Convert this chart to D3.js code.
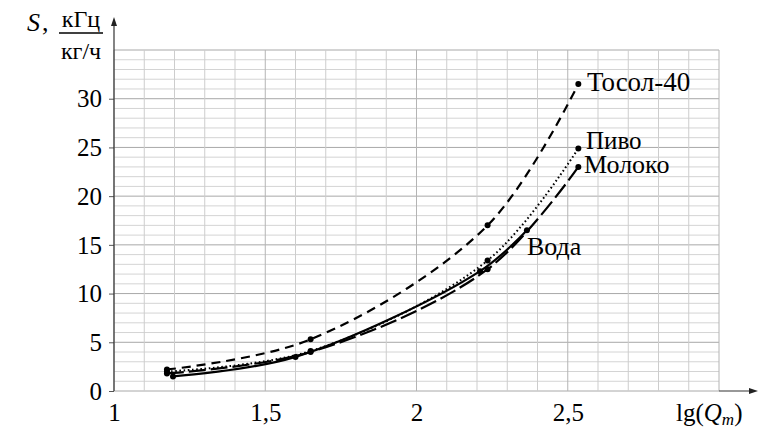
<!DOCTYPE html>
<html><head><meta charset="utf-8">
<script src="https://cdn.jsdelivr.net/npm/d3@7/dist/d3.min.js"></script>
<style>body{margin:0;background:#fff}svg{display:block}</style>
</head><body><svg id="c" width="759" height="428"></svg>
<script>
const xTicks = [1, 1.5, 2, 2.5];
const xTickLabels = ["1", "1,5", "2", "2,5"];
const yTicks = [0, 5, 10, 15, 20, 25, 30];
const seriesNames = ["Тосол-40", "Пиво", "Молоко", "Вода"];
const tosolX = [1.175, 1.65, 2.235, 2.535];
const tosolY = [2.2, 5.3, 17.0, 31.5];
const pivoX = [1.175, 1.65, 2.235, 2.535];
const pivoY = [2.0, 4.1, 13.4, 24.9];
const molokoX = [1.175, 1.65, 2.235, 2.535];
const molokoY = [1.8, 4.0, 12.5, 23.0];
const vodaX = [1.195, 1.60, 2.21, 2.365];
const vodaY = [1.5, 3.5, 12.3, 16.5];

const FONT = "Liberation Serif";
const svg = d3.select("#c");
const x = d3.scaleLinear().domain([1, 3]).range([114, 719]);
const y = d3.scaleLinear().domain([0, 35]).range([391, 50]);

const g = svg.append("g");
d3.range(0, 35.0001, 1).forEach(v => {
  const major = v % 5 === 0;
  g.append("line").attr("x1", x(1)).attr("x2", x(3)).attr("y1", y(v)).attr("y2", y(v))
    .attr("stroke", major ? "#a8a8a8" : "#d4d4d4").attr("stroke-width", 1);
});
d3.range(1, 3.0001, 0.1).forEach(v => {
  const major = Math.abs(v * 2 - Math.round(v * 2)) < 1e-6;
  g.append("line").attr("x1", x(v)).attr("x2", x(v)).attr("y1", y(0)).attr("y2", y(35))
    .attr("stroke", major ? "#b4b4b4" : "#cdcdcd").attr("stroke-width", 1);
});

// axes
const yAxis = d3.axisLeft(y).tickValues(yTicks).tickSize(5).tickFormat(d => d);
const ya = svg.append("g").attr("transform", `translate(${x(1)},0)`).call(yAxis);
ya.attr("font-family", FONT);
ya.select(".domain").remove();
ya.selectAll("line").attr("stroke", "#555");
ya.selectAll("text").attr("font-family", FONT).attr("font-size", 25).attr("x", -12).attr("dy", "0.33em");

const xAxis = d3.axisBottom(x).tickValues(xTicks).tickSize(0).tickFormat((d, i) => xTickLabels[i]);
const xa = svg.append("g").attr("transform", `translate(0,${y(0)})`).call(xAxis);
xa.attr("font-family", FONT);
xa.select(".domain").remove();
xa.selectAll("text").attr("font-family", FONT).attr("font-size", 25).attr("y", 12).attr("dy", "0.71em");

// axis arrows
svg.append("line").attr("x1", x(1)).attr("x2", x(1)).attr("y1", y(0)).attr("y2", 22)
  .attr("stroke", "#333").attr("stroke-width", 1.2);
svg.append("path").attr("d", `M${x(1)},17 L${x(1) - 3},26 L${x(1) + 3},26 Z`).attr("fill", "#222");
svg.append("line").attr("x1", x(3)).attr("x2", 752).attr("y1", y(0)).attr("y2", y(0))
  .attr("stroke", "#333").attr("stroke-width", 1.2);
svg.append("path").attr("d", `M758,${y(0)} L749,${y(0) - 3} L749,${y(0) + 3} Z`).attr("fill", "#222");

// axis titles
const T = (xx, yy, size) => svg.append("text").attr("x", xx).attr("y", yy)
  .attr("font-size", size).attr("font-family", FONT).attr("fill", "#000");
T(27, 31, 26).attr("font-style", "italic").text("S");
T(42, 31, 26).text(",");
T(81, 27, 24).attr("text-anchor", "middle").text("кГц");
svg.append("line").attr("x1", 59).attr("x2", 103).attr("y1", 33).attr("y2", 33).attr("stroke", "#000").attr("stroke-width", 1.3);
T(81, 59, 24).attr("text-anchor", "middle").text("кг/ч");

const xt = T(676, 421, 25);
xt.append("tspan").text("lg(");
xt.append("tspan").attr("font-style", "italic").text("Q");
xt.append("tspan").attr("font-style", "italic").attr("font-size", 17).attr("dy", 4).text("m");
xt.append("tspan").attr("dy", -4).text(")");

// series
const series = [
  {name: seriesNames[0], xs: tosolX, ys: tosolY, dash: "9,6", w: 2.2, lx: 587, ly: 91, fs: 27},
  {name: seriesNames[1], xs: pivoX, ys: pivoY, dash: "1.6,2.6", w: 2, lx: 586, ly: 149, fs: 25},
  {name: seriesNames[2], xs: molokoX, ys: molokoY, dash: "17,5", w: 2.2, lx: 584, ly: 173, fs: 26},
  {name: seriesNames[3], xs: vodaX, ys: vodaY, dash: null, w: 2.2, lx: 527, ly: 255, fs: 26}
];
const line = d3.line().x(d => x(d[0])).y(d => y(d[1])).curve(d3.curveCatmullRom.alpha(0.5));
series.forEach(s => {
  const pts = s.xs.map((v, i) => [v, s.ys[i]]);
  const p = svg.append("path").attr("d", line(pts)).attr("fill", "none")
    .attr("stroke", "#000").attr("stroke-width", s.w);
  if (s.dash) p.attr("stroke-dasharray", s.dash);
  svg.selectAll(null).data(pts).enter().append("circle")
    .attr("cx", d => x(d[0])).attr("cy", d => y(d[1])).attr("r", 3).attr("fill", "#000");
  T(s.lx, s.ly, s.fs).text(s.name);
});
</script></body></html>
